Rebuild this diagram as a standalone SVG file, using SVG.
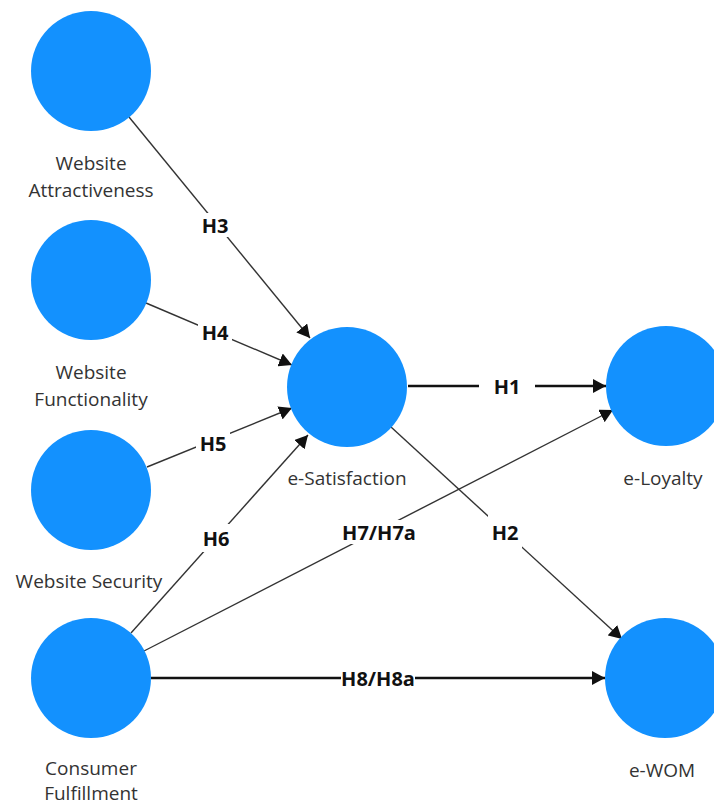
<svg xmlns="http://www.w3.org/2000/svg" width="714" height="807" viewBox="0 0 714 807">
  <defs>
    <marker id="arrow" markerUnits="userSpaceOnUse" markerWidth="14" markerHeight="14" refX="13" refY="7" orient="auto">
      <path d="M0,0 L13,7 L0,14 z" fill="#111"/>
    </marker>
    <style>
      .node { fill: #1391fe; }
      .lbl { font-family: "Open Sans", "Noto Sans", sans-serif; font-size: 19px; fill: #333; text-anchor: middle; }
      .edge { stroke: #333; stroke-width: 1.4; fill: none; marker-end: url(#arrow); }
      .edge.thick { stroke: #111; stroke-width: 2.4; }
      .elbl { font-family: "Open Sans", "Noto Sans", sans-serif; font-size: 20px; font-weight: bold; fill: #111; text-anchor: middle; dominant-baseline: central; }
      .bg { fill: #fff; }
    </style>
  </defs>
  <rect width="714" height="807" fill="#fff"/>

  <g id="connectors">
    <g id="e-H3"><line class="edge" x1="129" y1="117" x2="310" y2="338"/><rect class="bg" x="199" y="213" width="32" height="24"/><text class="elbl" x="215" y="225">H3</text></g>
    <g id="e-H4"><line class="edge" x1="146" y1="303" x2="292" y2="365"/><rect class="bg" x="198" y="320" width="34" height="24"/><text class="elbl" x="215" y="332">H4</text></g>
    <g id="e-H5"><line class="edge" x1="147" y1="467" x2="292" y2="408"/><rect class="bg" x="196" y="431" width="34" height="24"/><text class="elbl" x="213" y="443">H5</text></g>
    <g id="e-H6"><line class="edge" x1="131" y1="633" x2="308" y2="435"/><rect class="bg" x="199" y="524" width="34" height="28"/><text class="elbl" x="216" y="538">H6</text></g>
    <g id="e-H1"><line class="edge thick" x1="408" y1="386" x2="606" y2="386"/><rect class="bg" x="479" y="374" width="56" height="24"/><text class="elbl" x="507" y="386">H1</text></g>
    <g id="e-H2"><line class="edge" x1="391" y1="427" x2="622" y2="639"/><rect class="bg" x="488" y="514" width="34" height="36"/><text class="elbl" x="505" y="532">H2</text></g>
    <g id="e-H7"><line class="edge" x1="144" y1="651" x2="613" y2="410"/><rect class="bg" x="339" y="520" width="80" height="24"/><text class="elbl" x="379" y="532">H7/H7a</text></g>
    <g id="e-H8"><line class="edge thick" x1="151" y1="678" x2="605" y2="678"/><rect class="bg" x="341" y="666" width="74" height="24"/><text class="elbl" x="378" y="678">H8/H8a</text></g>
  </g>

  <g id="website-attractiveness">
    <circle class="node" cx="91" cy="71" r="60"/>
    <text class="lbl" x="91" y="170">Website</text>
    <text class="lbl" x="91" y="197">Attractiveness</text>
  </g>
  <g id="website-functionality">
    <circle class="node" cx="91" cy="280" r="60"/>
    <text class="lbl" x="91" y="379">Website</text>
    <text class="lbl" x="91" y="406">Functionality</text>
  </g>
  <g id="website-security">
    <circle class="node" cx="91" cy="490" r="60"/>
    <text class="lbl" x="89" y="588">Website Security</text>
  </g>
  <g id="consumer-fulfillment">
    <circle class="node" cx="91" cy="678" r="60"/>
    <text class="lbl" x="91" y="775">Consumer</text>
    <text class="lbl" x="91" y="800">Fulfillment</text>
  </g>
  <g id="e-satisfaction">
    <circle class="node" cx="347" cy="387" r="60"/>
    <text class="lbl" x="347" y="485">e-Satisfaction</text>
  </g>
  <g id="e-loyalty">
    <circle class="node" cx="666" cy="386" r="60"/>
    <text class="lbl" x="663" y="485">e-Loyalty</text>
  </g>
  <g id="e-wom">
    <circle class="node" cx="665" cy="678" r="60"/>
    <text class="lbl" x="662" y="777">e-WOM</text>
  </g>
</svg>
